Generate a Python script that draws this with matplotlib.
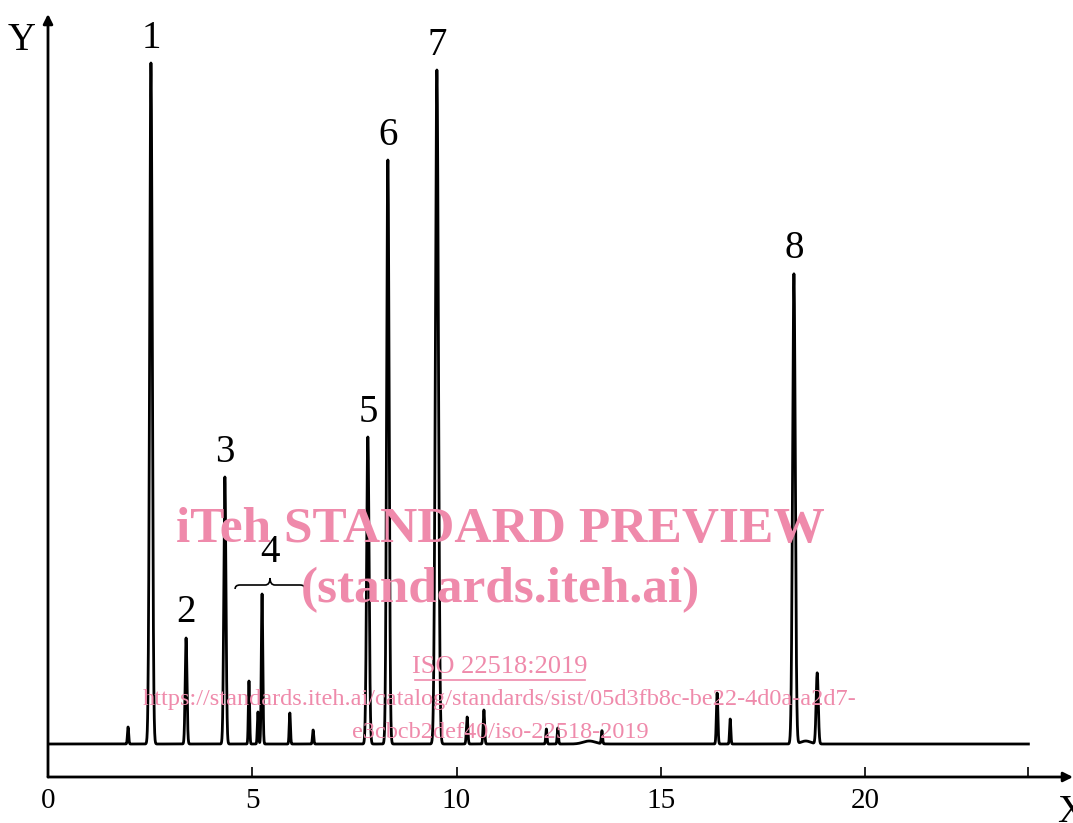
import numpy as np
import matplotlib.pyplot as plt
from matplotlib.path import Path
from matplotlib.patches import PathPatch

# peak table (retention time, height, width)
peak_rt = [1.96, 2.52, 3.38, 4.33, 4.92, 5.14, 5.24, 5.92, 6.49,
           7.83, 8.32, 9.52, 10.26, 10.67, 12.20, 12.48, 13.25, 13.56,
           16.38, 16.70, 18.26, 18.55, 18.83]
peak_height = [17, 681, 106, 267, 63, 32, 150, 31, 14,
               307, 584, 674, 27, 34, 15, 16, 3, 13,
               51, 25, 470, 3, 71]
peak_width = [0.015, 0.032, 0.022, 0.026, 0.015, 0.015, 0.018, 0.015, 0.015,
              0.03, 0.03, 0.037, 0.018, 0.018, 0.015, 0.015, 0.15, 0.015,
              0.018, 0.015, 0.033, 0.12, 0.026]

# numbered peaks: label, retention time, height
label_text = ['1', '2', '3', '5', '6', '7', '8']
label_rt = [2.52, 3.38, 4.33, 7.83, 8.32, 9.52, 18.26]
label_height = [681, 106, 267, 307, 584, 674, 470]

x_ticks = [0, 5, 10, 15, 20, 24]
x_tick_labels = ['0', '5', '10', '15', '20', '']

t = np.arange(0, 24.0001, 0.002)
signal = np.zeros_like(t)
for rt, h, w in zip(peak_rt, peak_height, peak_width):
    signal += h * np.exp(-0.5 * ((t - rt) / w) ** 2)

serif = 'Liberation Serif'
wm_color = '#EF8AAB'

fig = plt.figure(figsize=(10.73, 8.23), dpi=100)
ax = fig.add_axes([48 / 1073, 46 / 823, 1025 / 1073, 763 / 823])
ax.plot(t, signal, color='black', lw=2, solid_joinstyle='round')
ax.set_xlim(0, 1025 / 40.85)
ax.set_ylim(-33, 730)

for s in ax.spines.values():
    s.set_visible(False)
ax.set_yticks([])
ax.set_xticks(x_ticks)
ax.set_xticklabels(x_tick_labels, fontsize=21, family=serif)
ax.tick_params(axis='x', direction='in', length=7, width=1.2, pad=8)

# axes with arrow heads
arrow = dict(arrowstyle='-|>', lw=2, color='black', mutation_scale=14, shrinkA=0, shrinkB=0)
ax.annotate('', xy=(1, 0), xytext=(0, 0), xycoords='axes fraction', arrowprops=arrow, annotation_clip=False)
ax.annotate('', xy=(0, 1), xytext=(0, 0), xycoords='axes fraction', arrowprops=arrow, annotation_clip=False)
fig.text(22 / 1073, 1 - 41 / 823, 'Y', fontsize=28, family=serif, ha='center', va='center')
fig.text(1057 / 1073, 1 - 812 / 823, 'X', fontsize=28, family=serif, ha='left', va='center')

for lab, rt, h in zip(label_text, label_rt, label_height):
    ax.annotate(lab, xy=(rt, h), xytext=(0, 18), textcoords='offset points',
                ha='center', va='center', fontsize=28, family=serif)

# curly bracket over the peak group 4
bx0, bx1, by = 4.58, 6.29, 159
bc = (bx0 + bx1) / 2
verts = [(bx0, by - 4), (bx0, by), (bx0 + 0.12, by),
         (bc - 0.12, by), (bc, by), (bc, by + 7),
         (bc, by), (bc + 0.12, by),
         (bx1 - 0.12, by), (bx1, by), (bx1, by - 4)]
codes = [Path.MOVETO, Path.CURVE3, Path.CURVE3,
         Path.LINETO, Path.CURVE3, Path.CURVE3,
         Path.CURVE3, Path.CURVE3,
         Path.LINETO, Path.CURVE3, Path.CURVE3]
ax.add_patch(PathPatch(Path(verts, codes), fill=False, lw=1.2, color='black'))
ax.text(bc, by + 33, '4', fontsize=28, family=serif, ha='center', va='center')

# watermark
fig.text(500 / 1073, 1 - 530 / 823, 'iTeh STANDARD PREVIEW', color=wm_color,
         fontsize=37, fontweight='bold', family=serif, ha='center', va='center')
fig.text(500 / 1073, 1 - 590 / 823, '(standards.iteh.ai)', color=wm_color,
         fontsize=37, fontweight='bold', family=serif, ha='center', va='center')
fig.text(500 / 1073, 1 - 667 / 823, 'ISO 22518:2019', color=wm_color,
         fontsize=19, family=serif, ha='center', va='center')
fig.text(500 / 1073, 1 - 700 / 823,
         'https://standards.iteh.ai/catalog/standards/sist/05d3fb8c-be22-4d0a-a2d7-',
         color=wm_color, fontsize=17.5, family=serif, ha='center', va='center')
fig.text(500 / 1073, 1 - 732 / 823, 'e3cbcb2def40/iso-22518-2019', color=wm_color,
         fontsize=17.5, family=serif, ha='center', va='center')
fig.lines.append(plt.Line2D([415 / 1073, 585 / 1073], [1 - 680 / 823, 1 - 680 / 823],
                            transform=fig.transFigure, color=wm_color, lw=1.2))

fig.savefig('out.png', dpi=100)
